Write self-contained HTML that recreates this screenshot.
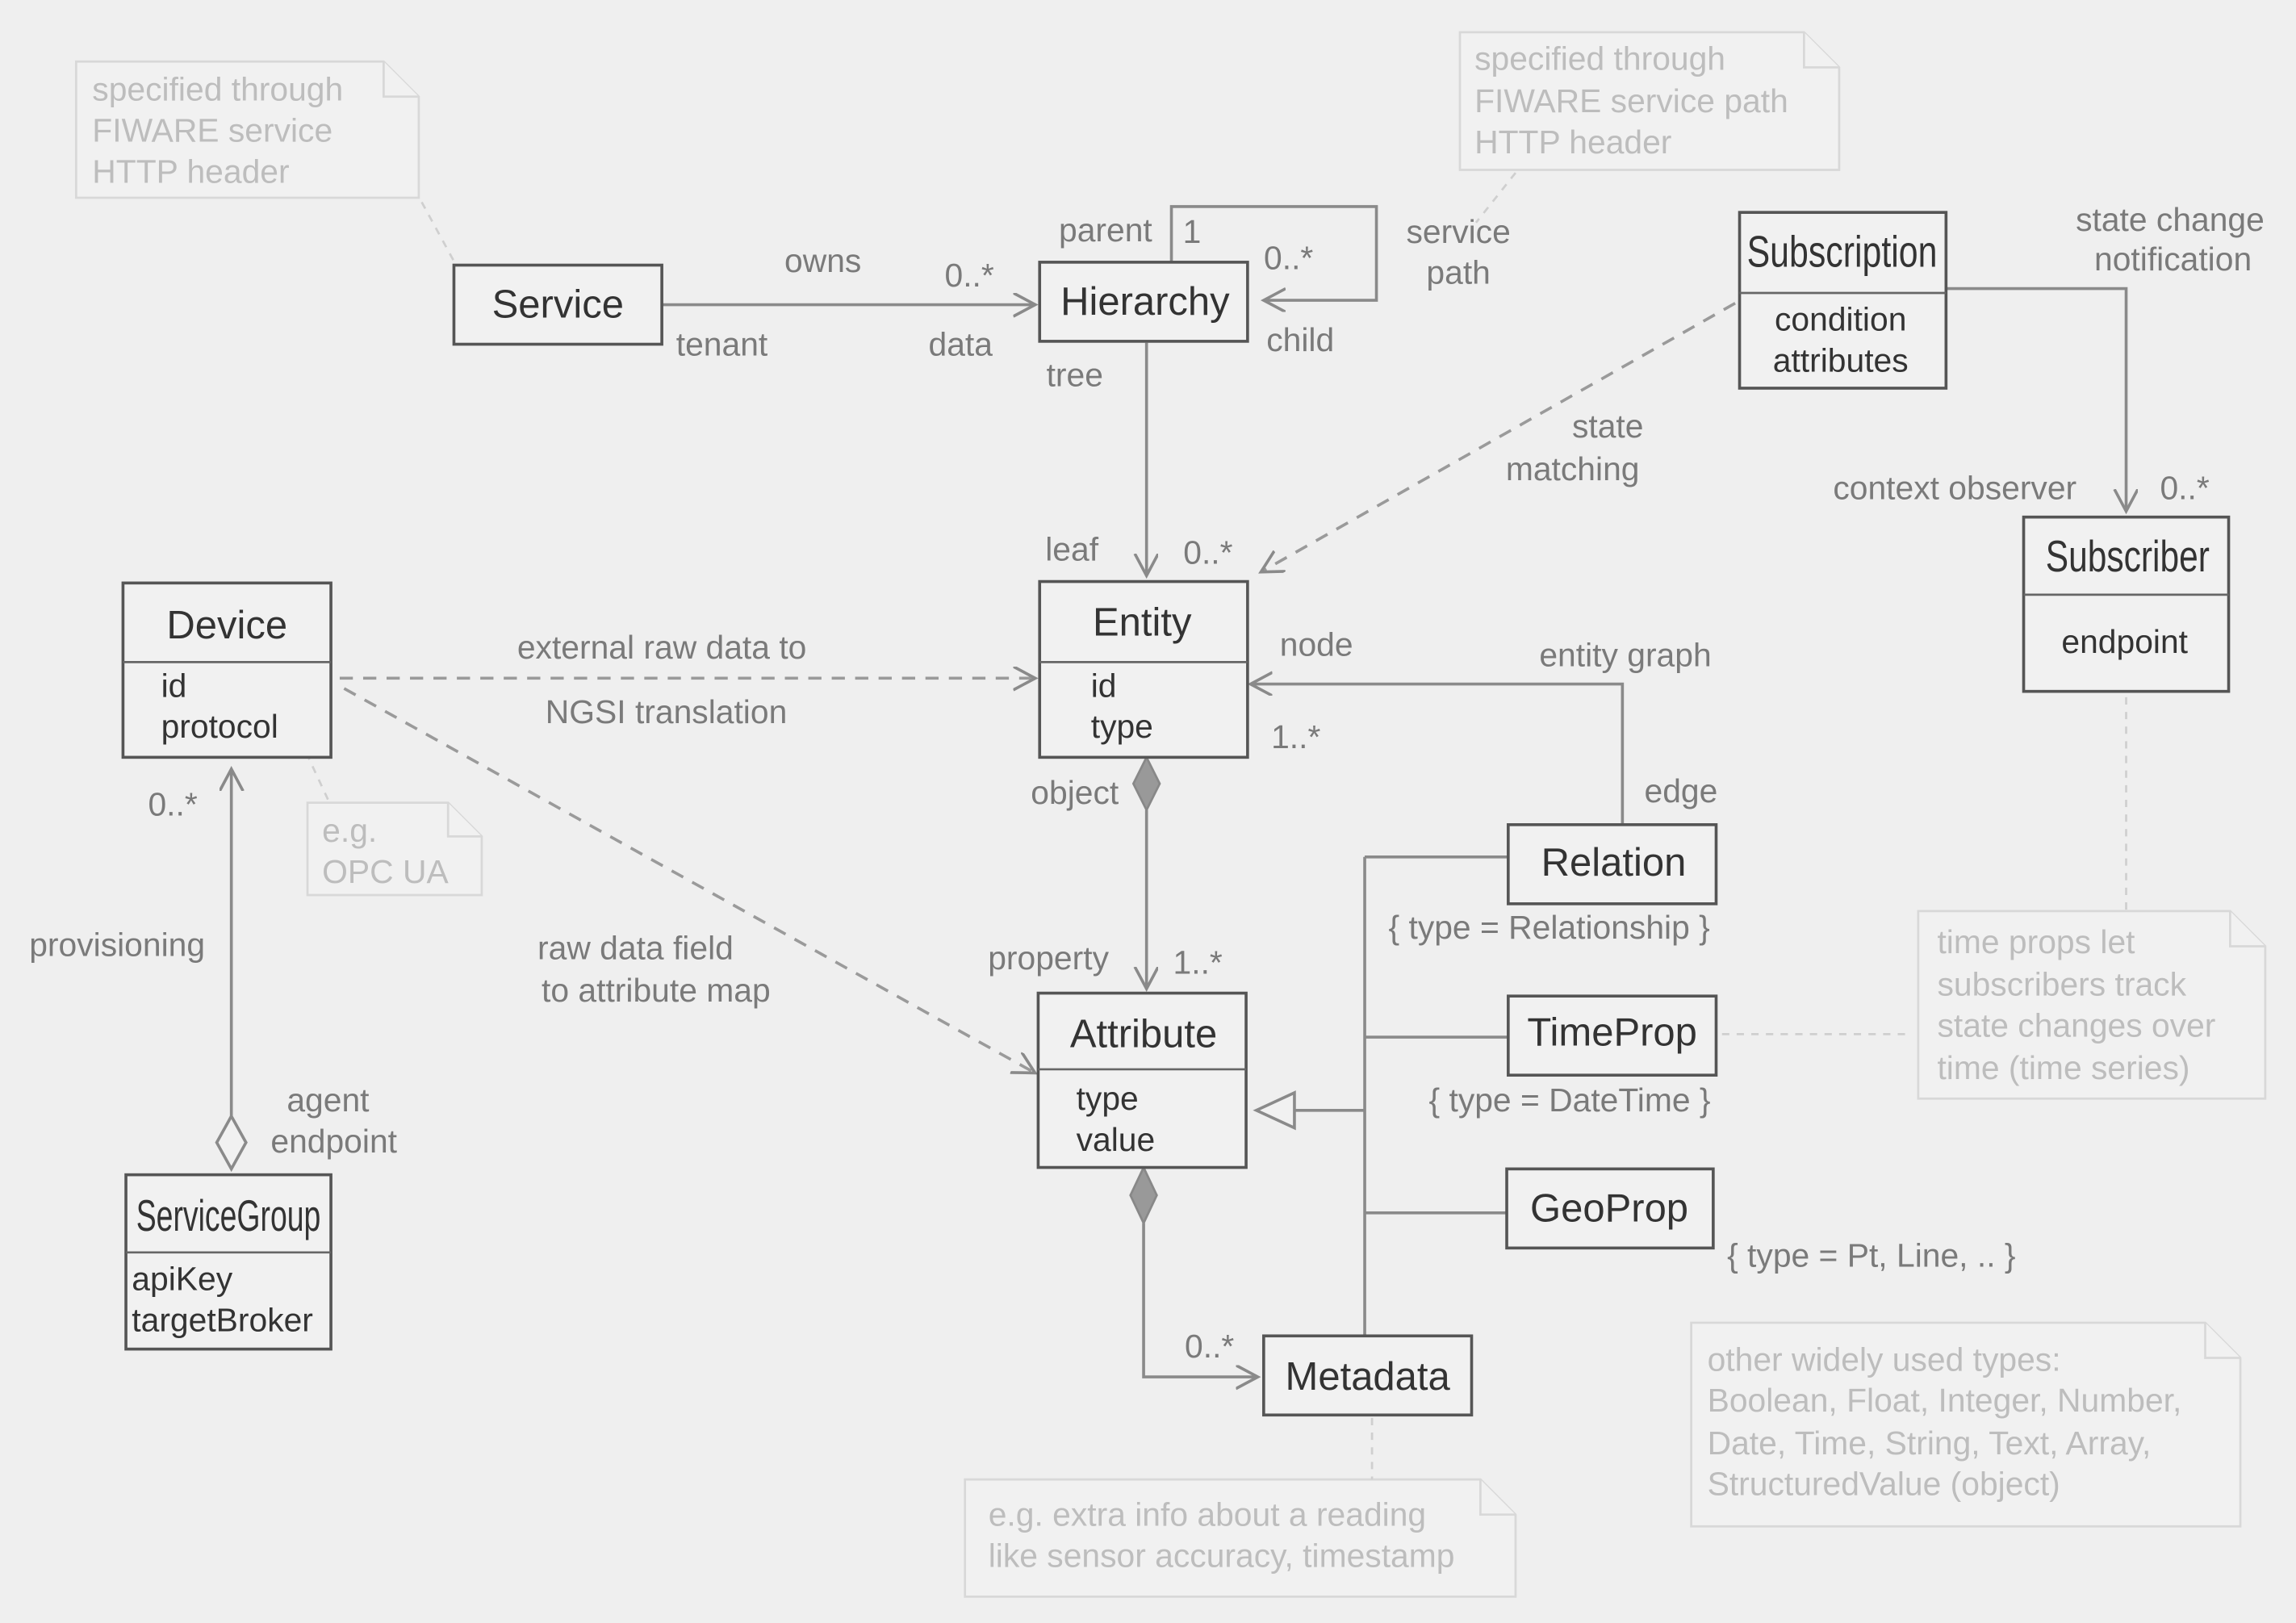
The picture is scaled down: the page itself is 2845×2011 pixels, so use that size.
<!DOCTYPE html>
<html><head><meta charset="utf-8"><style>
html,body{margin:0;padding:0;background:#efefef;}
svg{display:block;}
text{font-family:"Liberation Sans","DejaVu Sans",sans-serif;dominant-baseline:central;}
.l{fill:#7a7a7a;font-size:22.5px;}
.n{fill:#bdbdbd;font-size:22.5px;}
.t{fill:#333;font-size:27px;text-anchor:middle;}
.c{fill:#333;font-size:30px;text-anchor:middle;}
.f{fill:#333;font-size:22.5px;}
.box{fill:#f1f1f1;stroke:#555;stroke-width:2;}
.sep{stroke:#666;stroke-width:1.5;}
.ln{stroke:#8a8a8a;stroke-width:2;fill:none;}
.ds{stroke:#9a9a9a;stroke-width:2;fill:none;stroke-dasharray:9 7;}
.dt{stroke:#cfcfcf;stroke-width:1.5;fill:none;stroke-dasharray:5 5;}
.note{fill:#f1f1f1;stroke:#d8d8d8;stroke-width:1.5;}
.m{text-anchor:middle;}
</style></head><body>
<svg width="2845" height="2011" viewBox="0 0 1568 1108" preserveAspectRatio="none" xmlns="http://www.w3.org/2000/svg">
<defs>
<marker id="a" markerWidth="20" markerHeight="20" refX="14" refY="8" orient="auto" markerUnits="userSpaceOnUse"><path d="M0,0 L15,8 L0,16" fill="none" stroke="#8a8a8a" stroke-width="2"/></marker>
</defs>
<rect width="1568" height="1108" fill="#efefef"/>

<path class="note" d="M52,42 H262 L286,66 V135 H52 Z"/><path class="note" d="M262,42 V66 H286"/>
<text class="n" x="63" y="61">specified through</text><text class="n" x="63" y="89">FIWARE service</text><text class="n" x="63" y="117">HTTP header</text>
<path class="dt" d="M288,138 L312,182"/>

<path class="note" d="M997,22 H1232 L1256,46 V116 H997 Z"/><path class="note" d="M1232,22 V46 H1256"/>
<text class="n" x="1007" y="40">specified through</text><text class="n" x="1007" y="69">FIWARE service path</text><text class="n" x="1007" y="97">HTTP header</text>
<path class="dt" d="M1035,118 L1008,152"/>

<path class="note" d="M210,548 H306 L329,571 V611 H210 Z"/><path class="note" d="M306,548 V571 H329"/>
<text class="n" x="220" y="567">e.g.</text><text class="n" x="220" y="595">OPC UA</text>
<path class="dt" d="M205,505 L225,548"/>

<path class="note" d="M1310,622 H1523 L1547,646 V750 H1310 Z"/><path class="note" d="M1523,622 V646 H1547"/>
<text class="n" x="1323" y="643">time props let</text><text class="n" x="1323" y="672">subscribers track</text><text class="n" x="1323" y="700">state changes over</text><text class="n" x="1323" y="729">time (time series)</text>
<path class="dt" d="M1452,476 V622"/>
<path class="dt" d="M1176,706 H1306"/>

<path class="note" d="M659,1010 H1011 L1035,1034 V1090 H659 Z"/><path class="note" d="M1011,1010 V1034 H1035"/>
<text class="n" x="675" y="1034">e.g. extra info about a reading</text><text class="n" x="675" y="1062">like sensor accuracy, timestamp</text>
<path class="dt" d="M937,968 V1010"/>

<path class="note" d="M1155,903 H1506 L1530,927 V1042 H1155 Z"/><path class="note" d="M1506,903 V927 H1530"/>
<text class="n" x="1166" y="928">other widely used types:</text><text class="n" x="1166" y="956">Boolean, Float, Integer, Number,</text><text class="n" x="1166" y="985">Date, Time, String, Text, Array,</text><text class="n" x="1166" y="1013">StructuredValue (object)</text>

<path class="ln" d="M452,208 H706" marker-end="url(#a)"/>
<text class="l m" x="562" y="178">owns</text><text class="l m" x="493" y="235">tenant</text><text class="l m" x="662" y="188">0..*</text><text class="l m" x="656" y="235">data</text>
<path class="ln" d="M800,179 V141 H940 V205 H864" marker-end="url(#a)"/>
<text class="l m" x="755" y="157">parent</text><text class="l m" x="814" y="158">1</text><text class="l m" x="880" y="176">0..*</text><text class="l m" x="888" y="232">child</text>
<path class="ln" d="M783,234 V392" marker-end="url(#a)"/>
<text class="l m" x="734" y="256">tree</text><text class="l m" x="732" y="375">leaf</text><text class="l m" x="825" y="377">0..*</text>
<text class="l m" x="996" y="158">service</text><text class="l m" x="996" y="186">path</text>
<text class="l m" x="1482" y="150">state change</text><text class="l m" x="1484" y="177">notification</text>
<path class="ln" d="M1329,197 H1452 V348" marker-end="url(#a)"/>
<text class="l m" x="1335" y="333">context observer</text><text class="l m" x="1492" y="333">0..*</text>
<path class="ds" d="M1185,207 L862,390" marker-end="url(#a)"/>
<text class="l m" x="1098" y="291">state</text><text class="l m" x="1074" y="320">matching</text>
<path class="ln" d="M1108,563 V467 H855" marker-end="url(#a)"/>
<text class="l m" x="899" y="440">node</text><text class="l m" x="885" y="503">1..*</text><text class="l m" x="1110" y="447">entity graph</text><text class="l m" x="1148" y="540">edge</text>
<path class="ds" d="M232,463 H706" marker-end="url(#a)"/>
<text class="l m" x="452" y="442">external raw data to</text><text class="l m" x="455" y="486">NGSI translation</text>
<path class="ds" d="M235,470 L706,732" marker-end="url(#a)"/>
<text class="l m" x="434" y="647">raw data field</text><text class="l m" x="448" y="676">to attribute map</text>
<path class="ln" d="M158,762 V526" marker-end="url(#a)"/>
<path d="M158,762 L168,780 L158,798 L148,780 Z" fill="#f1f1f1" stroke="#8a8a8a" stroke-width="2"/>
<text class="l m" x="118" y="549">0..*</text><text class="l m" x="80" y="645">provisioning</text><text class="l m" x="224" y="751">agent</text><text class="l m" x="228" y="779">endpoint</text>
<path d="M783,517 L792,535 L783,553 L774,535 Z" fill="#999" stroke="#888" stroke-width="1.5"/>
<path class="ln" d="M783,553 V674" marker-end="url(#a)"/>
<text class="l m" x="734" y="541">object</text><text class="l m" x="716" y="654">property</text><text class="l m" x="818" y="657">1..*</text>
<path d="M781,797 L790,816 L781,835 L772,816 Z" fill="#999" stroke="#888" stroke-width="1.5"/>
<path class="ln" d="M781,835 V940 H858" marker-end="url(#a)"/>
<text class="l m" x="826" y="919">0..*</text>
<path class="ln" d="M884,758 H932 M932,585 V912 M932,585 H1030 M932,708 H1030 M932,828 H1029"/>
<path d="M858,758 L884,746 L884,770 Z" fill="#f1f1f1" stroke="#8a8a8a" stroke-width="2"/>
<text class="l m" x="1058" y="633">{ type = Relationship }</text>
<text class="l m" x="1072" y="751">{ type = DateTime }</text>
<text class="l m" x="1278" y="857">{ type = Pt, Line, .. }</text>

<rect class="box" x="310" y="181" width="142" height="54"/><text class="t" x="381" y="208">Service</text>
<rect class="box" x="710" y="179" width="142" height="54"/><text class="t" x="782" y="206">Hierarchy</text>
<rect class="box" x="1188" y="145" width="141" height="120"/><text class="c" x="1258" y="172" textLength="130" lengthAdjust="spacingAndGlyphs">Subscription</text><line class="sep" x1="1188" y1="200" x2="1329" y2="200"/>
<text class="f m" x="1257" y="218">condition</text><text class="f m" x="1257" y="246">attributes</text>
<rect class="box" x="1382" y="353" width="140" height="119"/><text class="c" x="1453" y="380" textLength="112" lengthAdjust="spacingAndGlyphs">Subscriber</text><line class="sep" x1="1382" y1="406" x2="1522" y2="406"/>
<text class="f m" x="1451" y="438">endpoint</text>
<rect class="box" x="710" y="397" width="142" height="120"/><text class="t" x="780" y="425">Entity</text><line class="sep" x1="710" y1="452" x2="852" y2="452"/>
<text class="f" x="745" y="468">id</text><text class="f" x="745" y="496">type</text>
<rect class="box" x="84" y="398" width="142" height="119"/><text class="t" x="155" y="427">Device</text><line class="sep" x1="84" y1="452" x2="226" y2="452"/>
<text class="f" x="110" y="468">id</text><text class="f" x="110" y="496">protocol</text>
<rect class="box" x="86" y="802" width="140" height="119"/><text class="c" x="156" y="830" textLength="126" lengthAdjust="spacingAndGlyphs">ServiceGroup</text><line class="sep" x1="86" y1="855" x2="226" y2="855"/>
<text class="f" x="90" y="873">apiKey</text><text class="f" x="90" y="901">targetBroker</text>
<rect class="box" x="709" y="678" width="142" height="119"/><text class="t" x="781" y="706">Attribute</text><line class="sep" x1="709" y1="730" x2="851" y2="730"/>
<text class="f" x="735" y="750">type</text><text class="f" x="735" y="778">value</text>
<rect class="box" x="1030" y="563" width="142" height="54"/><text class="t" x="1102" y="589">Relation</text>
<rect class="box" x="1030" y="680" width="142" height="54"/><text class="t" x="1101" y="705">TimeProp</text>
<rect class="box" x="1029" y="798" width="141" height="54"/><text class="t" x="1099" y="825">GeoProp</text>
<rect class="box" x="863" y="912" width="142" height="54"/><text class="t" x="934" y="940">Metadata</text>
</svg>
</body></html>
